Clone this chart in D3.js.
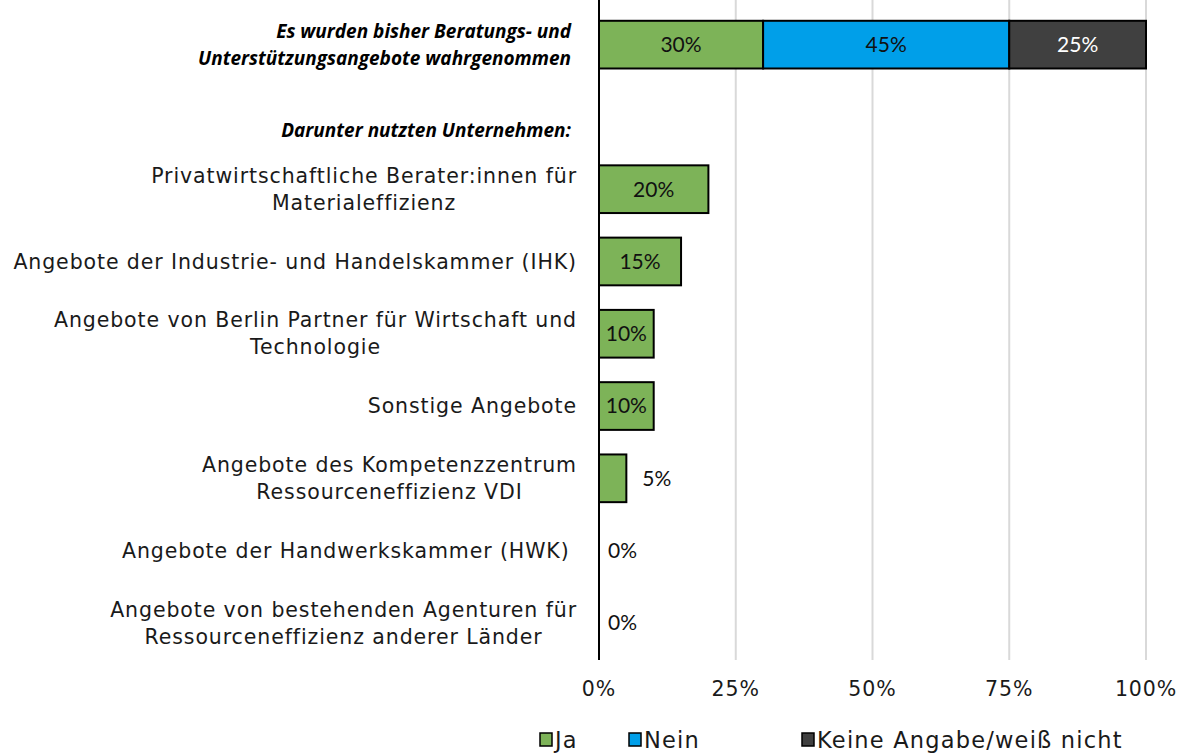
<!DOCTYPE html>
<html>
<head>
<meta charset="utf-8">
<script src="https://cdn.jsdelivr.net/npm/d3@7"></script>
<style>
  body { margin: 0; background: #fff; }
  .lab { font-family: "DejaVu Sans", Verdana, sans-serif; font-size: 20.5px; letter-spacing: 0.9px; fill: #1a1a1a; }
  .head { font-family: "Open Sans", Lato, sans-serif; font-size: 19px; font-weight: bold; font-style: italic; fill: #000; }
  .val { font-family: Lato, "Open Sans", sans-serif; font-size: 21px; }
  .leg { font-family: "DejaVu Sans", Verdana, sans-serif; font-size: 22.5px; letter-spacing: 1.2px; fill: #1a1a1a; }
</style>
</head>
<body>
<div id="chart"></div>
<script>
// row labels (each entry = lines of the wrapped label)
var rowLabels = [
  ["Es wurden bisher Beratungs- und", "Unterstützungsangebote wahrgenommen"],
  ["Darunter nutzten Unternehmen:"],
  ["Privatwirtschaftliche Berater:innen für", "Materialeffizienz"],
  ["Angebote der Industrie- und Handelskammer (IHK)"],
  ["Angebote von Berlin Partner für Wirtschaft und", "Technologie"],
  ["Sonstige Angebote"],
  ["Angebote des Kompetenzzentrum", "Ressourceneffizienz VDI"],
  ["Angebote der Handwerkskammer (HWK)\u00a0"],
  ["Angebote von bestehenden Agenturen für", "Ressourceneffizienz anderer Länder"]
];
var headRows = [0, 1];
var seriesNames = ["Ja", "Nein", "Keine Angabe/weiß nicht"];
var seriesColors = ["#7db358", "#009fe9", "#404040"];
var labelColors = ["#111", "#111", "#fff"];
// values per row: [Ja, Nein, Keine Angabe]
var ja    = [30, null, 20, 15, 10, 10, 5, 0, 0];
var nein  = [45, null, 0, 0, 0, 0, 0, 0, 0];
var keine = [25, null, 0, 0, 0, 0, 0, 0, 0];
var xTicks = [0, 25, 50, 75, 100];

var W = 1183, H = 754;
var svg = d3.select("#chart").append("svg").attr("width", W).attr("height", H);

var x = d3.scaleLinear().domain([0, 100]).range([599, 1146]);
var y = d3.scaleBand().domain(d3.range(rowLabels.length)).range([8.5, 659]).paddingInner(0.34).paddingOuter(0.17);

// grid
svg.append("g").selectAll("line").data(xTicks.slice(1)).enter().append("line")
  .attr("x1", d => x(d)).attr("x2", d => x(d))
  .attr("y1", 0).attr("y2", 660)
  .attr("stroke", "#d9d9d9").attr("stroke-width", 2);

// stacked bars
var rows = [];
rowLabels.forEach(function(l, i) {
  if (ja[i] == null) return;
  var vals = [ja[i], nein[i], keine[i]], x0 = 0;
  vals.forEach(function(v, s) {
    rows.push({row: i, s: s, x0: x0, x1: x0 + v, v: v});
    x0 += v;
  });
});

var segs = rows.filter(d => d.v > 0);
svg.append("g").selectAll("rect").data(segs).enter().append("rect")
  .attr("x", d => x(d.x0)).attr("width", d => x(d.x1) - x(d.x0))
  .attr("y", d => y(d.row)).attr("height", y.bandwidth())
  .attr("fill", d => seriesColors[d.s])
  .attr("stroke", "#000").attr("stroke-width", 2);

// value labels
var vlabs = rows.filter(d => d.s == 0 || d.v > 0);
svg.append("g").selectAll("text").data(vlabs).enter().append("text")
  .attr("class", "val")
  .attr("x", function(d) {
    if (d.v >= 10) return (x(d.x0) + x(d.x1)) / 2;
    return x(d.x1) + (d.v > 0 ? 16 : 9);
  })
  .attr("y", d => y(d.row) + y.bandwidth() / 2)
  .attr("dy", "0.35em")
  .attr("text-anchor", d => d.v >= 10 ? "middle" : "start")
  .attr("fill", d => d.v >= 10 ? labelColors[d.s] : "#111")
  .text(d => d.v + "%");

// axis line
svg.append("line").attr("x1", x(0)).attr("x2", x(0)).attr("y1", 0).attr("y2", 660)
  .attr("stroke", "#000").attr("stroke-width", 2);

// x tick labels
svg.append("g").selectAll("text").data(xTicks).enter().append("text")
  .attr("class", "lab")
  .attr("x", d => x(d)).attr("y", 696)
  .attr("text-anchor", "middle")
  .text(d => d + "%");

// row labels: headings right aligned, others centred in a right aligned block
var lg = svg.append("g").selectAll("g").data(rowLabels).enter().append("g");
lg.each(function(lines, i) {
  var head = headRows.indexOf(i) >= 0;
  var lh = 27;
  var right = head ? 571 : 577;
  var cy = y(i) + y.bandwidth() / 2 + (i == 1 ? 13 : 0);
  var t = d3.select(this).append("text")
    .attr("class", head ? "head" : "lab")
    .attr("text-anchor", head ? "end" : "middle");
  var spans = lines.map(function(s, k) {
    return t.append("tspan")
      .attr("y", cy + (k - (lines.length - 1) / 2) * lh)
      .attr("dy", "0.35em").text(s);
  });
  if (head) {
    spans.forEach(sp => sp.attr("x", right));
  } else {
    var maxW = d3.max(spans, sp => sp.node().getComputedTextLength());
    spans.forEach(sp => sp.attr("x", right - maxW / 2));
  }
});

// legend
var legX = [540, 629, 802];
var leg = svg.append("g").selectAll("g").data(seriesNames).enter().append("g")
  .attr("transform", (d, i) => "translate(" + legX[i] + ",740)");
leg.append("rect").attr("x", 0).attr("y", -7).attr("width", 12).attr("height", 13)
  .attr("fill", (d, i) => seriesColors[i]).attr("stroke", "#000").attr("stroke-width", 1.5);
leg.append("text").attr("class", "leg")
  .attr("x", 15).attr("y", 0).attr("dy", "0.35em").text(d => d);
</script>
</body>
</html>
